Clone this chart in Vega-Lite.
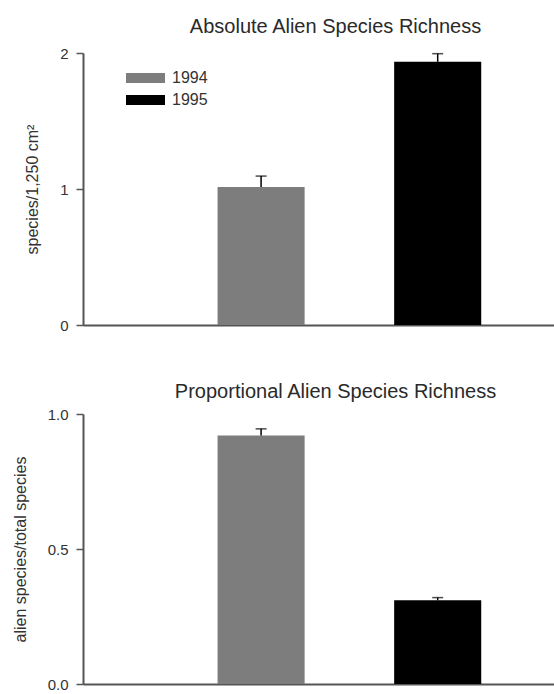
{
  "$schema": "https://vega.github.io/schema/vega-lite/v6.json",
  "background": "#ffffff",
  "padding": {"top": 17, "left": 12, "right": 0, "bottom": 0},
  "spacing": 49,
  "datasets": {
    "absolute": [
      {"year": "1994", "value": 1.015, "hi": 1.095},
      {"year": "1995", "value": 1.935, "hi": 1.995}
    ],
    "proportional": [
      {"year": "1994", "value": 0.92, "hi": 0.945},
      {"year": "1995", "value": 0.31, "hi": 0.32}
    ]
  },
  "config": {
    "font": "Liberation Sans",
    "view": {"stroke": null},
    "title": {"fontSize": 20, "fontWeight": "normal", "color": "#2a2a2a", "dx": 17},
    "axis": {
      "grid": false,
      "domainColor": "#555555",
      "domainWidth": 2,
      "tickColor": "#555555",
      "tickWidth": 1.5,
      "tickSize": 7,
      "labelPadding": 8,
      "labelFontSize": 15,
      "labelColor": "#333333",
      "titleFontSize": 16,
      "titleFontWeight": "normal",
      "titleColor": "#333333",
      "titlePadding": 19,
      "labelOverlap": false
    }
  },
  "vconcat": [
    {
      "width": 471,
      "height": 272,
      "title": {"text": "Absolute Alien Species Richness", "offset": 9},
      "data": {"name": "absolute"},
      "encoding": {
        "x": {
          "field": "year", "type": "nominal",
          "scale": {"paddingInner": 0.507, "paddingOuter": 0.587, "align": 0.649},
          "axis": {"title": null, "labels": false, "ticks": false}
        }
      },
      "layer": [
        {
          "mark": {"type": "bar"},
          "encoding": {
            "y": {
              "field": "value", "type": "quantitative",
              "scale": {"domain": [0, 2], "nice": false},
              "axis": {"title": "species/1,250 cm²", "tickCount": 2}
            },
            "color": {
              "field": "year", "type": "nominal",
              "scale": {"domain": ["1994", "1995"], "range": ["#7d7d7d", "#000000"]},
              "legend": {
                "title": null,
                "orient": "none",
                "legendX": 54.5,
                "legendY": 17,
                "symbolType": "M-3.9,-1H3.9V1H-3.9Z",
                "symbolSize": 100,
                "symbolStrokeWidth": 0,
                "symbolOpacity": 1,
                "labelFontSize": 16,
                "labelColor": "#333333",
                "labelOffset": 18.5,
                "rowPadding": 6,
                "padding": 0
              }
            }
          }
        },
        {
          "mark": {"type": "rule", "color": "#000000", "strokeWidth": 1.5},
          "encoding": {
            "y": {"field": "value", "type": "quantitative",
              "axis": {"title": "species/1,250 cm²", "tickCount": 2}},
            "y2": {"field": "hi"}
          }
        },
        {
          "mark": {"type": "tick", "color": "#000000", "size": 11, "thickness": 1.5},
          "encoding": {
            "y": {"field": "hi", "type": "quantitative",
              "axis": {"title": "species/1,250 cm²", "tickCount": 2}}
          }
        }
      ]
    },
    {
      "width": 471,
      "height": 270,
      "title": {"text": "Proportional Alien Species Richness", "offset": 5},
      "data": {"name": "proportional"},
      "encoding": {
        "x": {
          "field": "year", "type": "nominal",
          "scale": {"paddingInner": 0.507, "paddingOuter": 0.587, "align": 0.649},
          "axis": {"title": null, "labels": false, "ticks": false}
        }
      },
      "layer": [
        {
          "mark": {"type": "bar"},
          "encoding": {
            "y": {
              "field": "value", "type": "quantitative",
              "scale": {"domain": [0, 1]},
              "axis": {"title": "alien species/total species", "values": [0, 0.5, 1], "format": ".1f"}
            },
            "color": {
              "field": "year", "type": "nominal",
              "scale": {"domain": ["1994", "1995"], "range": ["#7d7d7d", "#000000"]},
              "legend": null
            }
          }
        },
        {
          "mark": {"type": "rule", "color": "#000000", "strokeWidth": 1.5},
          "encoding": {
            "y": {"field": "value", "type": "quantitative",
              "axis": {"title": "alien species/total species", "values": [0, 0.5, 1], "format": ".1f"}},
            "y2": {"field": "hi"}
          }
        },
        {
          "mark": {"type": "tick", "color": "#000000", "size": 11, "thickness": 1.5},
          "encoding": {
            "y": {"field": "hi", "type": "quantitative",
              "axis": {"title": "alien species/total species", "values": [0, 0.5, 1], "format": ".1f"}}
          }
        }
      ]
    }
  ],
  "resolve": {"scale": {"color": "independent"}}
}
